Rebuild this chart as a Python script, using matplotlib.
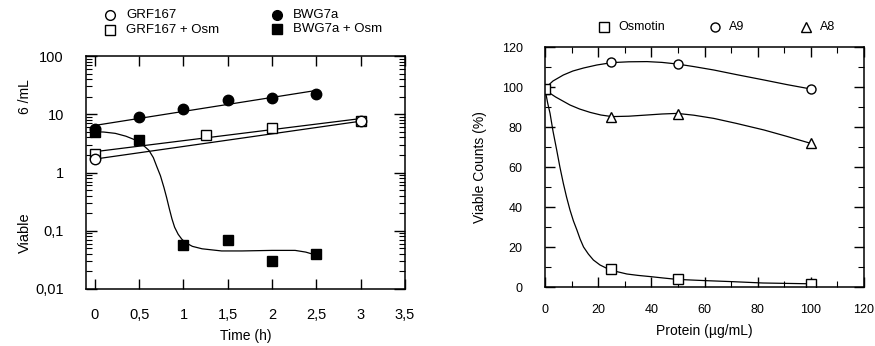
import numpy as np
import matplotlib
matplotlib.use("Agg")
import matplotlib.pyplot as plt
from matplotlib.lines import Line2D
from matplotlib.ticker import FixedLocator, LogLocator, MultipleLocator, NullFormatter

plt.rcParams['font.family'] = ['Liberation Sans', 'DejaVu Sans']

# ---- left panel: viable cells over time (log scale) ----
grf_t = [0, 3]
grf_v = [1.7, 7.6]
grf_osm_t = [0, 1.25, 2, 3]
grf_osm_v = [2.1, 4.4, 5.7, 7.8]
bwg_t = [0, 0.5, 1, 1.5, 2, 2.5]
bwg_v = [5.5, 8.9, 12.2, 17.6, 19.0, 22.5]
bwg_osm_t = [0, 0.5, 1, 1.5, 2, 2.5]
bwg_osm_v = [5.0, 3.6, 0.057, 0.069, 0.030, 0.040]

# fitted curve for BWG7a + Osm
bwg_osm_fit_t = [0, 0.1, 0.23, 0.35, 0.46, 0.55, 0.61, 0.66, 0.70, 0.74, 0.78, 0.81,
                 0.84, 0.87, 0.90, 0.94, 0.98, 1.02, 1.1, 1.21, 1.43, 1.66, 2.0,
                 2.26, 2.38, 2.5]
bwg_osm_fit_v = [5.0, 4.95, 4.7, 4.2, 3.6, 2.9, 2.4, 1.8, 1.25, 0.88, 0.55, 0.37,
                 0.24, 0.16, 0.115, 0.087, 0.072, 0.063, 0.054, 0.049, 0.045, 0.045,
                 0.046, 0.046, 0.043, 0.038]

time_ticks = [0, 0.5, 1, 1.5, 2, 2.5, 3, 3.5]
time_labels = ['0', '0,5', '1', '1,5', '2', '2,5', '3', '3,5']
log_ticks = [0.01, 0.1, 1, 10, 100]
log_labels = ['0,01', '0,1', '1', '10', '100']

# ---- right panel: viable counts vs protein ----
protein = [0, 25, 50, 100]
osmotin = [99, 9, 4.2, 1.5]
a9 = [99, 112.5, 111.3, 99]
a8 = [99, 85.2, 86.3, 71.8]

osm_curve_x = [0, 1, 1.9, 3, 4.4, 5.6, 6.9, 8.1, 9.4, 10.7, 12, 13.2, 14.5, 16.3, 18.2,
               20.7, 23.3, 27, 30.8, 35, 39.6, 44.5, 49.7, 60, 70, 82, 100]
osm_curve_y = [99, 92, 86.8, 78, 68.5, 60, 51.8, 45, 38.5, 33, 28.5, 24, 20, 16.5, 13.5,
               11, 9.3, 7.7, 6.5, 5.8, 5.2, 4.5, 3.8, 3.2, 2.7, 2.0, 1.6]
a9_curve_x = [0, 3, 6.9, 10.5, 14.5, 19.5, 25.2, 31.5, 38.4, 44, 49.7, 56, 63.5, 72, 82.4, 91, 100]
a9_curve_y = [99.3, 103, 106, 108, 109.5, 111, 112.2, 112.6, 112.7, 112.3, 111.5, 110.2,
              108.5, 106.2, 103.5, 101.2, 99]
a8_curve_x = [0, 4, 9.4, 13, 17, 21, 25.2, 31.5, 38.4, 44, 49.7, 56, 63.5, 72, 82.4, 91, 100]
a8_curve_y = [98.5, 95, 91, 89, 87.3, 86, 85.2, 85.4, 86, 86.5, 86.8, 85.9, 84.3, 81.8,
              78.5, 75.3, 71.8]

W, H = 875, 346
fig = plt.figure(figsize=(W / 100, H / 100), dpi=100)


def frac(x0, y0, x1, y1):
    return [x0 / W, 1 - y1 / H, (x1 - x0) / W, (y1 - y0) / H]


mk = dict(color='black', linestyle='none', markersize=7.5, markeredgewidth=1.0)
lw = 0.9

ax1 = fig.add_axes(frac(86, 56, 405, 289))
ax1.set_yscale('log')
ax1.set_xlim(-0.1, 3.5)
ax1.set_ylim(0.01, 100)

# regression lines (log-linear)
for t, v in [(grf_osm_t, grf_osm_v), (grf_t, grf_v), (bwg_t, bwg_v)]:
    k, b = np.polyfit(t, np.log10(v), 1)
    xx = np.array([0, max(t)])
    ax1.plot(xx, 10 ** (k * xx + b), color='black', lw=lw)
ax1.plot(bwg_osm_fit_t, bwg_osm_fit_v, color='black', lw=lw)

ax1.plot(grf_osm_t, grf_osm_v, marker='s', markerfacecolor='white', **mk)
ax1.plot(grf_t, grf_v, marker='o', markerfacecolor='white', **mk)
ax1.plot(bwg_t, bwg_v, marker='o', markerfacecolor='black', **mk)
ax1.plot(bwg_osm_t, bwg_osm_v, marker='s', markerfacecolor='black', **mk)

ax1.xaxis.set_major_locator(FixedLocator(time_ticks))
ax1.set_xticklabels(time_labels)
ax1.yaxis.set_major_locator(FixedLocator(log_ticks))
ax1.set_yticklabels(log_labels)
ax1.yaxis.set_minor_locator(LogLocator(base=10, subs=np.arange(2, 10)))
ax1.yaxis.set_minor_formatter(NullFormatter())
ax1.tick_params(axis='x', which='major', direction='in', top=True, length=7, width=1,
                pad=14, labelsize=10.5)
ax1.tick_params(axis='y', which='major', direction='in', right=True, length=8, width=1,
                pad=16, labelsize=10.5)
ax1.tick_params(axis='y', which='minor', direction='in', right=True, length=4, width=0.8)
ax1.set_xlabel('Time (h)', fontsize=10, labelpad=5)
for s in ax1.spines.values():
    s.set_linewidth(1.1)

fig.text(25 / W, 1 - 97 / H, '6 /mL', rotation=90, ha='center', va='center', fontsize=10)
fig.text(25 / W, 1 - 233 / H, 'Viable', rotation=90, ha='center', va='center', fontsize=10.5)

# left legend
leg1 = [((110, 15), 'o', 'white', 'GRF167'),
        ((110, 30), 's', 'white', 'GRF167 + Osm'),
        ((277, 15), 'o', 'black', 'BWG7a'),
        ((277, 29), 's', 'black', 'BWG7a + Osm')]
for (px, py), m, fc, label in leg1:
    fig.add_artist(Line2D([px / W], [1 - py / H], marker=m, markerfacecolor=fc,
                          markeredgecolor='black', markersize=7, linestyle='none',
                          transform=fig.transFigure))
    fig.text((px + 16) / W, 1 - py / H, label, ha='left', va='center', fontsize=9.5)

# ---- right panel ----
ax2 = fig.add_axes(frac(545, 47, 864, 287))
ax2.set_xlim(0, 120)
ax2.set_ylim(0, 120)
ax2.plot(osm_curve_x, osm_curve_y, color='black', lw=lw)
ax2.plot(a9_curve_x, a9_curve_y, color='black', lw=lw)
ax2.plot(a8_curve_x, a8_curve_y, color='black', lw=lw)

mk2 = dict(color='black', linestyle='none', markersize=6.5, markeredgewidth=1.0,
           markerfacecolor='white')
ax2.plot(protein, a9, marker='o', **mk2)
ax2.plot(protein, a8, marker='^', **mk2)
ax2.plot(protein, osmotin, marker='s', **mk2)

ax2.xaxis.set_major_locator(MultipleLocator(20))
ax2.xaxis.set_minor_locator(MultipleLocator(10))
ax2.yaxis.set_major_locator(MultipleLocator(20))
ax2.yaxis.set_minor_locator(MultipleLocator(10))
ax2.tick_params(axis='x', which='major', direction='in', top=True, length=7, width=1,
                pad=12, labelsize=9)
ax2.tick_params(axis='y', which='major', direction='in', right=True, length=7, width=1,
                pad=16, labelsize=9)
ax2.tick_params(which='minor', direction='in', top=True, right=True, length=4, width=0.8)
ax2.set_xlabel('Protein (\u00b5g/mL)', fontsize=10, labelpad=6)
for s in ax2.spines.values():
    s.set_linewidth(1.1)
fig.text(480 / W, 1 - 167 / H, 'Viable Counts (%)', rotation=90, ha='center',
         va='center', fontsize=10)

leg2 = [((604, 27), 's', 'Osmotin'),
        ((715, 27), 'o', 'A9'),
        ((806, 27), '^', 'A8')]
for (px, py), m, label in leg2:
    fig.add_artist(Line2D([px / W], [1 - py / H], marker=m, markerfacecolor='white',
                          markeredgecolor='black', markersize=6.5, linestyle='none',
                          transform=fig.transFigure))
    fig.text((px + 14) / W, 1 - py / H, label, ha='left', va='center', fontsize=9)

fig.savefig('out.png', dpi=100)
